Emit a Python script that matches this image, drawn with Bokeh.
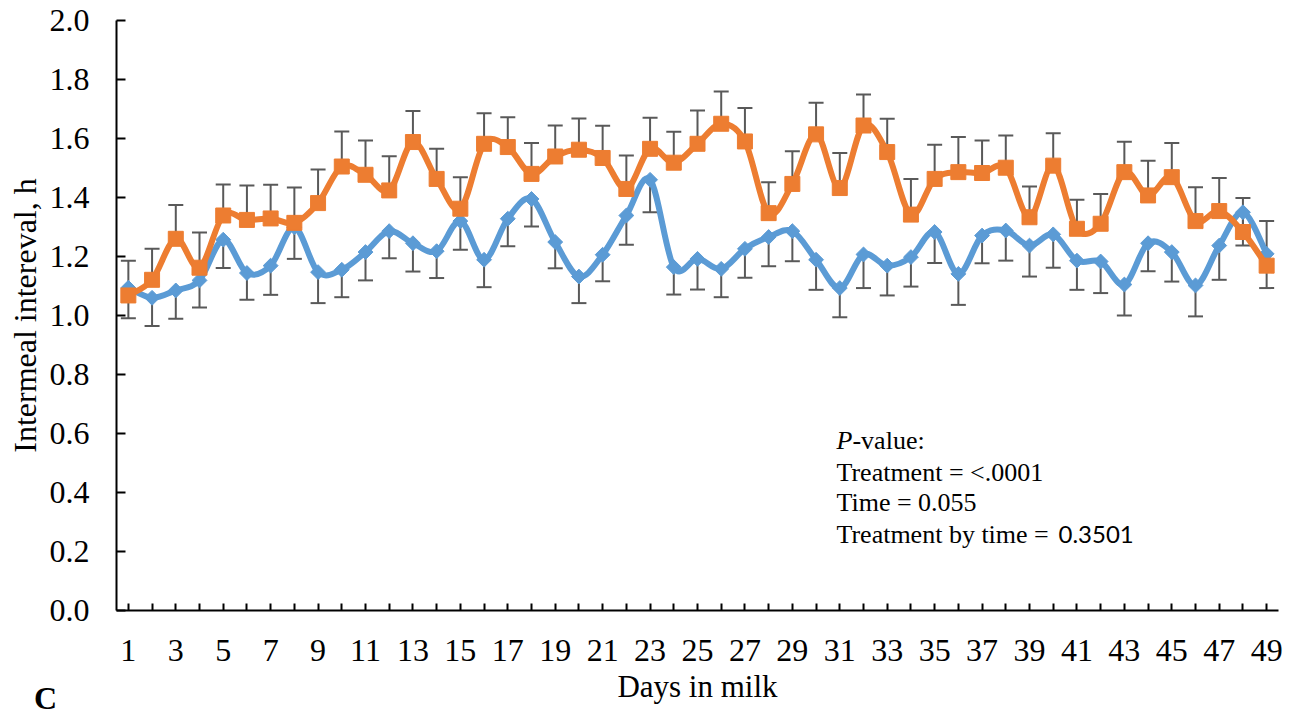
import numpy as np
from bokeh.plotting import figure
from bokeh.layouts import column
from bokeh.models import (Range1d, FixedTicker, ColumnDataSource, Whisker, TeeHead, Label, Div)
from bokeh.embed import file_html
from bokeh.resources import INLINE

days = list(range(1, 50))
x_tick_labels = {d: (str(d) if d % 2 == 1 else "") for d in days}
y_ticks = [0.0, 0.2, 0.4, 0.6, 0.8, 1.0, 1.2, 1.4, 1.6, 1.8, 2.0]

orange = [1.068, 1.121, 1.260, 1.162, 1.339, 1.324, 1.329, 1.314, 1.381, 1.505,
          1.477, 1.424, 1.588, 1.463, 1.362, 1.582, 1.571, 1.480, 1.539, 1.562,
          1.534, 1.429, 1.565, 1.518, 1.582, 1.650, 1.590, 1.347, 1.446, 1.614,
          1.432, 1.644, 1.554, 1.342, 1.463, 1.486, 1.483, 1.501, 1.333, 1.508,
          1.294, 1.311, 1.486, 1.407, 1.469, 1.320, 1.354, 1.283, 1.169]
orange_se = [0.118, 0.105, 0.115, 0.119, 0.105, 0.117, 0.114, 0.120, 0.114, 0.119,
             0.116, 0.116, 0.105, 0.102, 0.107, 0.104, 0.101, 0.105, 0.105, 0.106,
             0.109, 0.113, 0.105, 0.105, 0.113, 0.109, 0.113, 0.105, 0.111, 0.107,
             0.119, 0.105, 0.113, 0.121, 0.116, 0.119, 0.110, 0.109, 0.104, 0.110,
             0.098, 0.101, 0.103, 0.118, 0.116, 0.115, 0.112, 0.115, 0.151]
blue = [1.094, 1.060, 1.085, 1.119, 1.257, 1.144, 1.169, 1.299, 1.147, 1.155,
        1.215, 1.286, 1.245, 1.218, 1.320, 1.189, 1.328, 1.395, 1.249, 1.132,
        1.206, 1.339, 1.460, 1.164, 1.192, 1.158, 1.226, 1.266, 1.286, 1.189,
        1.093, 1.207, 1.169, 1.198, 1.283, 1.141, 1.271, 1.288, 1.237, 1.275,
        1.186, 1.183, 1.105, 1.245, 1.215, 1.102, 1.237, 1.350, 1.209]
blue_se = [0.103, 0.096, 0.096, 0.092, 0.096, 0.091, 0.099, 0.107, 0.105, 0.093,
           0.096, 0.092, 0.096, 0.091, 0.097, 0.093, 0.093, 0.093, 0.089, 0.090,
           0.090, 0.099, 0.110, 0.093, 0.104, 0.096, 0.098, 0.099, 0.102, 0.102,
           0.099, 0.114, 0.101, 0.100, 0.105, 0.105, 0.094, 0.102, 0.105, 0.113,
           0.099, 0.107, 0.105, 0.095, 0.100, 0.105, 0.116, 0.113, 0.116]

ORANGE = "#ED7D31"
BLUE = "#5B9BD5"
BAR = "#595959"
SERIF = "Liberation Serif"

p = figure(width=1298, height=715, output_backend="svg", toolbar_location=None,
           x_range=Range1d(0.5, 49.5), y_range=Range1d(0, 2.0),
           min_border_left=116, min_border_right=20, min_border_top=20, min_border_bottom=105)
p.outline_line_color = None
p.xgrid.grid_line_color = None
p.ygrid.grid_line_color = None
p.background_fill_color = "white"
p.border_fill_color = "white"

# axes
xa = p.xaxis[0]
xa.ticker = FixedTicker(ticks=days)
xa.major_label_overrides = x_tick_labels
xa.major_tick_in = 7
xa.major_tick_out = 0
xa.minor_tick_line_color = None
xa.axis_line_width = 2
xa.major_tick_line_width = 2
xa.axis_line_color = "black"
xa.major_tick_line_color = "black"
xa.major_label_text_font = SERIF
xa.major_label_text_font_size = "32px"
xa.major_label_text_color = "black"
xa.major_label_standoff = 29
xa.axis_label = "Days in milk"
xa.axis_label_text_font = SERIF
xa.axis_label_text_font_size = "31px"
xa.axis_label_text_font_style = "normal"
xa.axis_label_text_color = "black"
xa.axis_label_standoff = 5

ya = p.yaxis[0]
ya.ticker = FixedTicker(ticks=y_ticks)
ya.major_label_overrides = {t: f"{t:.1f}" for t in y_ticks}
ya.major_tick_in = 9
ya.major_tick_out = 0
ya.minor_tick_line_color = None
ya.axis_line_width = 2
ya.major_tick_line_width = 2
ya.axis_line_color = "black"
ya.major_tick_line_color = "black"
ya.major_label_text_font = SERIF
ya.major_label_text_font_size = "32px"
ya.major_label_text_color = "black"
ya.major_label_standoff = 27
ya.axis_label = "Intermeal intereval, h"
ya.axis_label_text_font = SERIF
ya.axis_label_text_font_size = "32px"
ya.axis_label_text_font_style = "normal"
ya.axis_label_text_color = "black"
ya.axis_label_standoff = 4

# error bars
osrc = ColumnDataSource(dict(x=days, y=orange, hi=[v + s for v, s in zip(orange, orange_se)]))
bsrc = ColumnDataSource(dict(x=days, y=blue, lo=[v - s for v, s in zip(blue, blue_se)]))
w1 = Whisker(source=osrc, base="x", lower="y", upper="hi", dimension="height",
             line_color=BAR, line_width=2, level="underlay",
             upper_head=TeeHead(size=15, line_color=BAR, line_width=2), lower_head=None)
w2 = Whisker(source=bsrc, base="x", lower="lo", upper="y", dimension="height",
             line_color=BAR, line_width=2, level="underlay",
             lower_head=TeeHead(size=15, line_color=BAR, line_width=2), upper_head=None)
p.add_layout(w1)
p.add_layout(w2)


def smooth_segments(xs, ys):
    X = np.asarray(xs, float)
    Y = np.asarray(ys, float)
    n = len(X)
    xp = np.concatenate([[X[0]], X, [X[-1]]])
    yp = np.concatenate([[Y[0]], Y, [Y[-1]]])
    i = np.arange(n - 1)
    cx0 = X[i] + (xp[i + 2] - xp[i]) / 6.0
    cy0 = Y[i] + (yp[i + 2] - yp[i]) / 6.0
    cx1 = X[i + 1] - (xp[i + 3] - xp[i + 1]) / 6.0
    cy1 = Y[i + 1] - (yp[i + 3] - yp[i + 1]) / 6.0
    return dict(x0=X[:-1], y0=Y[:-1], x1=X[1:], y1=Y[1:], cx0=cx0, cy0=cy0, cx1=cx1, cy1=cy1)


bseg = smooth_segments(days, blue)
oseg = smooth_segments(days, orange)
p.bezier(source=ColumnDataSource(bseg), x0="x0", y0="y0", x1="x1", y1="y1",
         cx0="cx0", cy0="cy0", cx1="cx1", cy1="cy1", line_color=BLUE, line_width=6, line_cap="round")
p.scatter(days, blue, marker="square", angle=np.pi / 4, size=10.5, fill_color=BLUE, line_color=BLUE)
p.bezier(source=ColumnDataSource(oseg), x0="x0", y0="y0", x1="x1", y1="y1",
         cx0="cx0", cy0="cy0", cx1="cx1", cy1="cy1", line_color=ORANGE, line_width=6, line_cap="round")
p.scatter(days, orange, marker="square", size=15, fill_color=ORANGE, line_color=ORANGE)

# P-value annotation
tx = 30.86
lines_y = [0.576, 0.468, 0.366, 0.258]
fs = "26px"
p.add_layout(Label(x=tx, y=lines_y[0], text="P", text_font=SERIF, text_font_size=fs,
                   text_font_style="italic", text_baseline="middle", text_color="black"))
p.add_layout(Label(x=tx, y=lines_y[0], x_offset=16, text="-value:", text_font=SERIF, text_font_size=fs,
                   text_baseline="middle", text_color="black"))
p.add_layout(Label(x=tx, y=lines_y[1], text="Treatment = <.0001", text_font=SERIF, text_font_size=fs,
                   text_baseline="middle", text_color="black"))
p.add_layout(Label(x=tx, y=lines_y[2], text="Time = 0.055", text_font=SERIF, text_font_size=fs,
                   text_baseline="middle", text_color="black"))
p.add_layout(Label(x=tx, y=lines_y[3], text="Treatment by time = ", text_font=SERIF, text_font_size=fs,
                   text_baseline="middle", text_color="black"))
p.add_layout(Label(x=tx, y=lines_y[3], x_offset=222, text="0.3501", text_font="Lato", text_font_size="24px",
                   text_baseline="middle", text_color="black"))

# panel letter (outside the plot frame, so placed as an overlapping Div)
letter = Div(text="C", width=44, height=34, margin=(-34, 0, 0, 34),
             styles={"font-family": "Liberation Serif", "font-weight": "bold",
                     "font-size": "32px", "line-height": "34px", "color": "black"})

layout = column(p, letter)
open("out.html", "w").write(file_html(layout, INLINE))
